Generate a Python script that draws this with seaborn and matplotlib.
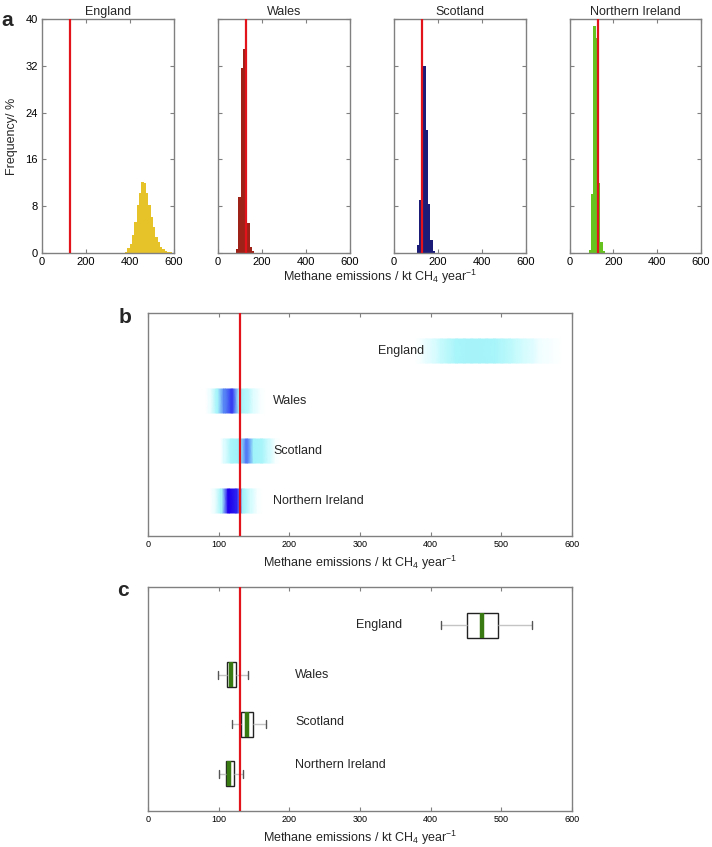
import numpy as np
import pandas as pd
import matplotlib
matplotlib.use("Agg")
import matplotlib.pyplot as plt
import seaborn as sns
from matplotlib.colors import LinearSegmentedColormap

# ---------------- data ----------------
regions = ["England", "Wales", "Scotland", "Northern Ireland"]
inventory_value = 130  # kt CH4 / year (red line)

# histogram bins (first edge, bin width) and frequencies in %
eng_bin_start, eng_bin_width = 378, 10.7
eng_freq = [0.2, 0.8, 1.5, 3.1, 5.3, 8.2, 10.2, 12.2, 12.0, 10.3,
            8.2, 6.1, 4.4, 2.8, 1.8, 1.1, 0.6, 0.35, 0.2, 0.1]
wal_bin_start, wal_bin_width = 82, 10.5
wal_freq = [0.6, 9.5, 31.6, 34.8, 17.4, 5.2, 1.0, 0.3]
sco_bin_start, sco_bin_width = 103, 10.5
sco_freq = [1.4, 9.1, 25.8, 32.0, 21.0, 8.3, 2.2, 0.3]
nir_bin_start, nir_bin_width = 88, 10.5
nir_freq = [0.5, 10.1, 38.8, 36.7, 12.0, 1.8, 0.3]

# box plot five-number summaries
box_low = [414.6, 99.5, 118.9, 100.5]
box_q1 = [451.4, 111.3, 132.0, 110.0]
box_med = [472.0, 117.4, 140.0, 115.0]
box_q3 = [494.8, 125.0, 148.0, 122.0]
box_high = [543.8, 141.0, 166.5, 134.8]

hist_xticks = [0, 200, 400, 600]
hist_yticks = [0, 8, 16, 24, 32, 40]
wide_xticks = [0, 100, 200, 300, 400, 500, 600]

# ---------------- style ----------------
sns.set_theme(style="white")
plt.rcParams["font.family"] = ["Liberation Sans", "DejaVu Sans"]
plt.rcParams["mathtext.fontset"] = "custom"
plt.rcParams["mathtext.rm"] = "Liberation Sans"
plt.rcParams["mathtext.it"] = "Liberation Sans:italic"
plt.rcParams["mathtext.default"] = "regular"

RED = "#e3131b"
SPINE = "#808080"
hist_colors = ["#E6C329", "#9E2218", "#1B1B78", "#66C31F"]
xlabel = "Methane emissions / kt CH$_4$ year$^{-1}$"

fig = plt.figure(figsize=(7.12, 8.47), dpi=100)


def style_axes(ax, labelsize):
    for s in ax.spines.values():
        s.set_color(SPINE)
        s.set_linewidth(1.0)
        s.set_visible(True)
    ax.tick_params(direction="in", length=3, width=0.8, color=SPINE,
                   labelsize=labelsize, pad=3, labelcolor="black")


# ---------------- panel a ----------------
hist_data = [
    (eng_bin_start, eng_bin_width, eng_freq),
    (wal_bin_start, wal_bin_width, wal_freq),
    (sco_bin_start, sco_bin_width, sco_freq),
    (nir_bin_start, nir_bin_width, nir_freq),
]
lefts_px = [42, 218, 394, 569.5]
for i, (name, (start, width, freq), color, lpx) in enumerate(
        zip(regions, hist_data, hist_colors, lefts_px)):
    ax = fig.add_axes([lpx / 712, 1 - 253 / 847, 131.5 / 712, 234 / 847])
    edges = start + width * np.arange(len(freq) + 1)
    centers = (edges[:-1] + edges[1:]) / 2
    hdf = pd.DataFrame({"x": centers, "w": freq})
    sns.histplot(data=hdf, x="x", weights="w", bins=[float(e) for e in edges],
                 color=color, alpha=1, linewidth=0, ax=ax)
    ax.axvline(inventory_value, color=RED, lw=1.6, zorder=5)
    ax.set_xlim(0, 600)
    ax.set_ylim(0, 40)
    ax.set_xticks(hist_xticks)
    ax.set_yticks(hist_yticks)
    ax.set_xlabel("")
    ax.set_ylabel("")
    ax.set_title(name, fontsize=9, pad=3)
    style_axes(ax, 8)
    ax.tick_params(top=True, right=True, left=True, bottom=True)
    if i == 0:
        ax.set_ylabel("Frequency/ %", fontsize=9, labelpad=5)
    else:
        ax.set_yticklabels([])

fig.text(380 / 712, 1 - 277 / 847, xlabel, ha="center", va="center",
         fontsize=9)
fig.text(1 / 712, 1 - 20 / 847, "a", fontsize=15, fontweight="bold",
         ha="left", va="center")

# ---------------- panel b ----------------
cmap = LinearSegmentedColormap.from_list("dens", [
    (0.000, (1.00, 1.00, 1.00)),
    (0.025, (0.88, 0.99, 1.00)),
    (0.080, (0.76, 0.98, 0.99)),
    (0.200, (0.66, 0.96, 0.98)),
    (0.650, (0.62, 0.95, 0.98)),
    (0.750, (0.45, 0.72, 0.97)),
    (0.800, (0.32, 0.48, 0.96)),
    (0.875, (0.20, 0.22, 0.95)),
    (0.970, (0.12, 0.00, 0.93)),
    (1.000, (0.12, 0.00, 0.93)),
])

axb = fig.add_axes([148 / 712, 1 - 536 / 847, 424 / 712, 223 / 847])
half = 0.24
for k, (start, width, freq) in enumerate(hist_data):
    edges = start + width * np.arange(len(freq) + 1)
    # each bin shown as a short plateau, smoothly blended into its neighbours
    xs = [edges[0]]
    cs = [0.0]
    for e0, f in zip(edges[:-1], freq):
        xs += [e0 + 0.4 * width, e0 + 0.6 * width]
        cs += [f, f]
    xs.append(edges[-1])
    cs.append(0.0)
    xs = np.array(xs)
    cs = np.array(cs)
    X = np.vstack([xs, xs])
    Y = np.vstack([np.full_like(xs, k - half), np.full_like(xs, k + half)])
    C = np.vstack([cs, cs])
    axb.pcolormesh(X, Y, C, cmap=cmap, vmin=0, vmax=40, shading="gouraud")
axb.axvline(inventory_value, color=RED, lw=1.6, zorder=5)
label_x_b = [325, 177, 177, 177]
for k, (name, lx) in enumerate(zip(regions, label_x_b)):
    axb.text(lx, k, name, ha="left", va="center", fontsize=9)
axb.set_xlim(0, 600)
axb.set_ylim(3.7, -0.76)
axb.set_xticks(wide_xticks)
axb.set_yticks([])
style_axes(axb, 6.5)
axb.tick_params(top=True, bottom=True)
axb.set_xlabel(xlabel, fontsize=9, labelpad=3)
fig.text(119 / 712, 1 - 317 / 847, "b", fontsize=15, fontweight="bold",
         ha="left", va="center")

# ---------------- panel c ----------------
axc = fig.add_axes([148 / 712, 1 - 811 / 847, 424 / 712, 224 / 847])
rows = []
for name, a, b, c, d, e in zip(regions, box_low, box_q1, box_med, box_q3, box_high):
    for v in (a, b, c, d, e):
        rows.append({"region": name, "value": v})
box_df = pd.DataFrame(rows)
sns.boxplot(data=box_df, x="value", y="region", order=regions, orient="y",
            whis=np.inf, width=0.5, color="white", linecolor="#222222",
            linewidth=1.0, fliersize=0, ax=axc,
            medianprops={"color": "#3a7a12", "linewidth": 3.2},
            whiskerprops={"color": "#c4c4c4", "linewidth": 1.0},
            capprops={"color": "#555555", "linewidth": 1.0},
            capwidths=0.17)
axc.axvline(inventory_value, color=RED, lw=1.6, zorder=5)
label_x_c = [294, 208, 208, 208]
label_dy_c = [0, 0, -0.04, -0.17]
for k, (name, lx, dy) in enumerate(zip(regions, label_x_c, label_dy_c)):
    axc.text(lx, k + dy, name, ha="left", va="center", fontsize=9)
axc.set_xlim(0, 600)
axc.set_ylim(3.75, -0.77)
axc.set_xticks(wide_xticks)
axc.set_yticks([])
axc.set_ylabel("")
style_axes(axc, 6.5)
axc.tick_params(top=True, bottom=True, left=False)
axc.set_xlabel(xlabel, fontsize=9, labelpad=3)
fig.text(117 / 712, 1 - 591 / 847, "c", fontsize=15, fontweight="bold",
         ha="left", va="center")

fig.savefig("out.png", dpi=100)
